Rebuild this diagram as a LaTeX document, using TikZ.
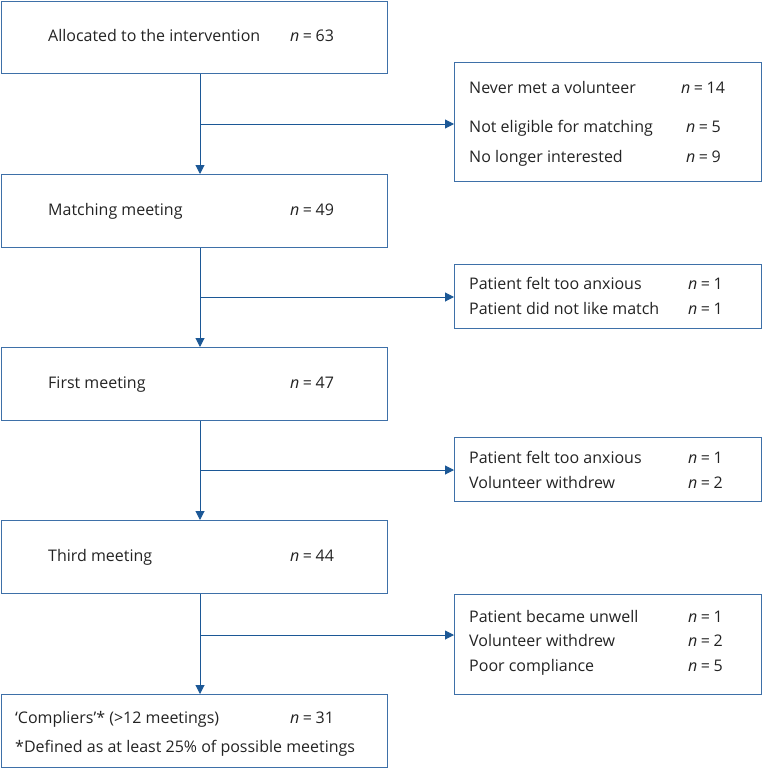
\documentclass[tikz,border=0pt]{standalone}
\usepackage{fontspec}
\setmainfont{Open Sans}
\usetikzlibrary{arrows.meta}
\definecolor{boxblue}{RGB}{62,112,168}
\definecolor{lineblue}{RGB}{28,88,150}
\definecolor{txt}{RGB}{35,35,35}
\tikzset{
  box/.style={draw=boxblue, line width=1.1pt, anchor=north west, inner sep=0pt},
  lbl/.style={anchor=base west, inner sep=0pt, text=txt, font=\fontsize{16}{18}\selectfont},
  flow/.style={draw=lineblue, line width=1pt, -{Triangle[length=9pt,width=9pt]}},
}
\newcommand{\nn}[1]{\textit{n}\hspace{0.22em}=\hspace{0.22em}#1}
\begin{document}
\begin{tikzpicture}[x=1pt,y=-1pt]
\useasboundingbox (0,0) rectangle (762,768);
% left boxes
\node[box, minimum width=386pt, minimum height=72pt] (b1) at (1,1) {};
\node[box, minimum width=386pt, minimum height=73pt] (b2) at (1,174) {};
\node[box, minimum width=386pt, minimum height=73pt] (b3) at (1,347) {};
\node[box, minimum width=386pt, minimum height=73pt] (b4) at (1,520) {};
\node[box, minimum width=386pt, minimum height=73pt] (b5) at (1,694) {};
% right boxes
\node[box, minimum width=307pt, minimum height=119pt] (r1) at (454,62) {};
\node[box, minimum width=307pt, minimum height=64pt] (r2) at (454,264) {};
\node[box, minimum width=307pt, minimum height=64pt] (r3) at (454,437) {};
\node[box, minimum width=307pt, minimum height=100pt] (r4) at (454,594) {};
% spine x
\coordinate (v) at (200,0);
\coordinate (a1) at (200,124);
\coordinate (a2) at (200,297);
\coordinate (a3) at (200,470);
\coordinate (a4) at (200,635);
% connectors
\draw[flow] (b1.south -| v) -- (b2.north -| v);
\draw[flow] (b2.south -| v) -- (b3.north -| v);
\draw[flow] (b3.south -| v) -- (b4.north -| v);
\draw[flow] (b4.south -| v) -- (b5.north -| v);
\draw[flow] (a1) -- (a1 -| r1.west);
\draw[flow] (a2) -- (a2 -| r2.west);
\draw[flow] (a3) -- (a3 -| r3.west);
\draw[flow] (a4) -- (a4 -| r4.west);
% left texts
\node[lbl] (t1) at (48,42) {Allocated to the intervention};
\node[lbl] (n1) at (290,42) {\nn{63}};
\node[lbl] (t2) at (48,215) {Matching meeting};
\node[lbl] (n2) at (290,215) {\nn{49}};
\node[lbl] (t3) at (48,388) {First meeting};
\node[lbl] (n3) at (290,388) {\nn{47}};
\node[lbl] (t4) at (48,561) {Third meeting};
\node[lbl] (n4) at (290,561) {\nn{44}};
\node[lbl] (t5) at (15,723) {‘Compliers’* (>12 meetings)};
\node[lbl] (n5) at (290,723) {\nn{31}};
\node[lbl] (t5b) at (15,752) {*Defined as at least 25\% of possible meetings};
% right texts
\node[lbl] (r1a) at (469,93) {Never met a volunteer};
\node[lbl] (r1an) at (681,93) {\nn{14}};
\node[lbl] (r1b) at (469,132) {Not eligible for matching};
\node[lbl] (r1bn) at (686,132) {\nn{5}};
\node[lbl] (r1c) at (469,162) {No longer interested};
\node[lbl] (r1cn) at (686,162) {\nn{9}};
\node[lbl] (r2a) at (469,289) {Patient felt too anxious};
\node[lbl] (r2an) at (688,289) {\nn{1}};
\node[lbl] (r2b) at (469,314) {Patient did not like match};
\node[lbl] (r2bn) at (688,314) {\nn{1}};
\node[lbl] (r3a) at (469,463) {Patient felt too anxious};
\node[lbl] (r3an) at (688,463) {\nn{1}};
\node[lbl] (r3b) at (469,488) {Volunteer withdrew};
\node[lbl] (r3bn) at (688,488) {\nn{2}};
\node[lbl] (r4a) at (469,622) {Patient became unwell};
\node[lbl] (r4an) at (688,622) {\nn{1}};
\node[lbl] (r4b) at (469,646) {Volunteer withdrew};
\node[lbl] (r4bn) at (688,646) {\nn{2}};
\node[lbl] (r4c) at (469,671) {Poor compliance};
\node[lbl] (r4cn) at (688,671) {\nn{5}};
\end{tikzpicture}
\end{document}
